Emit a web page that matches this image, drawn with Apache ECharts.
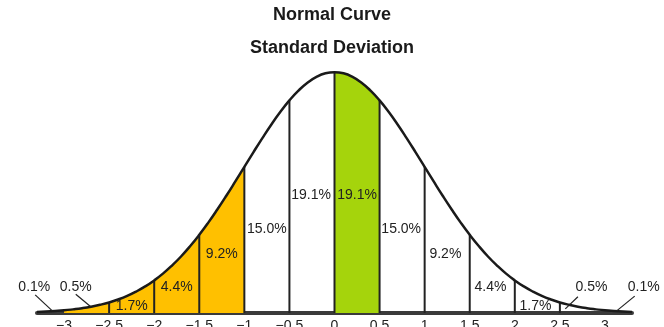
<!DOCTYPE html>
<html>
<head>
<meta charset="utf-8">
<script src="https://cdn.jsdelivr.net/npm/echarts@6/dist/echarts.min.js"></script>
<style>html,body{margin:0;padding:0;background:#fff}#c{width:664px;height:327px}</style>
</head>
<body>
<div id="c"></div>
<script>
// Curve samples (x from -3.3 to 3.3, step 0.1)
const curveX = [-3.3,-3.2,-3.1,-3.0,-2.9,-2.8,-2.7,-2.6,-2.5,-2.4,-2.3,-2.2,-2.1,-2.0,-1.9,-1.8,-1.7,-1.6,-1.5,-1.4,-1.3,-1.2,-1.1,-1.0,-0.9,-0.8,-0.7,-0.6,-0.5,-0.4,-0.3,-0.2,-0.1,0.0,0.1,0.2,0.3,0.4,0.5,0.6,0.7,0.8,0.9,1.0,1.1,1.2,1.3,1.4,1.5,1.6,1.7,1.8,1.9,2.0,2.1,2.2,2.3,2.4,2.5,2.6,2.7,2.8,2.9,3.0,3.1,3.2,3.3];
const curveY = [0.0017,0.0024,0.0033,0.0044,0.0060,0.0079,0.0104,0.0136,0.0175,0.0224,0.0283,0.0355,0.0440,0.0540,0.0656,0.0790,0.0940,0.1109,0.1295,0.1497,0.1714,0.1942,0.2179,0.2420,0.2661,0.2897,0.3123,0.3332,0.3521,0.3683,0.3814,0.3910,0.3970,0.3989,0.3970,0.3910,0.3814,0.3683,0.3521,0.3332,0.3123,0.2897,0.2661,0.2420,0.2179,0.1942,0.1714,0.1497,0.1295,0.1109,0.0940,0.0790,0.0656,0.0540,0.0440,0.0355,0.0283,0.0224,0.0175,0.0136,0.0104,0.0079,0.0060,0.0044,0.0033,0.0024,0.0017];

// Band boundaries (vertical lines)
const boundaries = [-2.5,-2,-1.5,-1,-0.5,0,0.5,1,1.5,2,2.5];
// Shaded ranges
const orangeRange = [-3, -1];
const greenRange = [0, 0.5];

// Percent labels
const bandLabels = ['0.1%','0.5%','1.7%','4.4%','9.2%','15.0%','19.1%','19.1%','15.0%','9.2%','4.4%','1.7%','0.5%','0.1%'];

// Tick labels
const tickValues = [-3,-2.5,-2,-1.5,-1,-0.5,0,0.5,1,1.5,2,2.5,3];
const tickLabels = ['\u22123','\u22122.5','\u22122','\u22121.5','\u22121','\u22120.5','0','0.5','1','1.5','2','2.5','3'];

// ---- layout (anchors for labels / leader lines, in axis units) ----
const labelAnchorX = [-3.33,-2.87,-2.25,-1.75,-1.25,-0.75,-0.26,0.25,0.74,1.23,1.73,2.23,2.85,3.43];
const labelAnchorY = [0.043,0.043,0.0116,0.043,0.0977,0.139,0.195,0.195,0.139,0.0977,0.043,0.0116,0.043,0.043];
const leaders = [
  [[-3.32,0.030],[-3.13,0.0035]],
  [[-2.87,0.031],[-2.70,0.010]],
  [[2.70,0.027],[2.56,0.0068]],
  [[3.33,0.028],[3.13,0.0035]]
];

const curve = curveX.map((x,i)=>[x,curveY[i]]);
function sub(r){ return curve.filter(p => p[0] >= r[0]-1e-9 && p[0] <= r[1]+1e-9); }
function yAt(x){ const i = Math.round((x - curveX[0]) * 10); return curveY[i]; }

const chart = echarts.init(document.getElementById('c'));
const FONT = 'Liberation Sans, Arial, sans-serif';
chart.setOption({
  animation: false,
  backgroundColor: '#fff',
  title: [
    {text: 'Normal Curve', left: 'center', top: 1, textStyle:{fontFamily: FONT, fontSize: 18, fontWeight: 'bold', color: '#1a1a1a'}},
    {text: 'Standard Deviation', left: 'center', top: 34, textStyle:{fontFamily: FONT, fontSize: 18, fontWeight: 'bold', color: '#1a1a1a'}}
  ],
  grid: {left: 37, right: 32, top: 71.5, bottom: 14, containLabel: false, outerBoundsMode: 'none'},
  xAxis: {
    type: 'value', min: -3.3, max: 3.3,
    axisLine: {show: true, lineStyle: {color: '#3a3a3a', width: 4}},
    axisTick: {show: false},
    splitLine: {show: false},
    axisLabel: {
      customValues: tickValues, margin: 6,
      fontFamily: FONT, fontSize: 14, color: '#222',
      formatter: v => { const i = tickValues.findIndex(t => Math.abs(t - v) < 1e-9); return i >= 0 ? tickLabels[i] : ''; }
    }
  },
  yAxis: {type: 'value', min: 0, max: 0.4, show: false},
  series: [
    {type:'line', data: sub(orangeRange), smooth: true, showSymbol:false, clip:false,
     lineStyle:{width:0}, areaStyle:{color:'#FFC000', opacity:1}, z:1},
    {type:'line', data: sub(greenRange), smooth: true, showSymbol:false, clip:false,
     lineStyle:{width:0}, areaStyle:{color:'#A5D40C', opacity:1}, z:1},
    {type:'custom', clip:false, z:3,
     data: boundaries.map(b => [b, yAt(b)]),
     renderItem: (params, api) => {
       const p0 = api.coord([api.value(0), 0]);
       const p1 = api.coord([api.value(0), api.value(1)]);
       return {type:'line', shape:{x1:p0[0], y1:p0[1], x2:p1[0], y2:p1[1]}, style:{stroke:'#222', lineWidth:2}};
     }},
    {type:'line', data: curve, smooth: true, showSymbol:false, clip:false,
     lineStyle:{color:'#1a1a1a', width:2.5}, z:4},
    {type:'custom', clip:false, z:5,
     data: leaders.map(l => [l[0][0], l[0][1], l[1][0], l[1][1]]),
     renderItem: (params, api) => {
       const a = api.coord([api.value(0), api.value(1)]);
       const b = api.coord([api.value(2), api.value(3)]);
       return {type:'line', shape:{x1:a[0], y1:a[1], x2:b[0], y2:b[1]}, style:{stroke:'#222', lineWidth:1.2}};
     }},
    {type:'custom', clip:false, z:6,
     data: bandLabels.map((t,i) => [labelAnchorX[i], labelAnchorY[i], t]),
     renderItem: (params, api) => {
       const p = api.coord([api.value(0), api.value(1)]);
       return {type:'text', x:p[0], y:p[1], style:{text: bandLabels[params.dataIndex], fontFamily: FONT, fontSize: 14, fill:'#222', align:'center', verticalAlign:'middle'}};
     }}
  ]
});
</script>
</body>
</html>
